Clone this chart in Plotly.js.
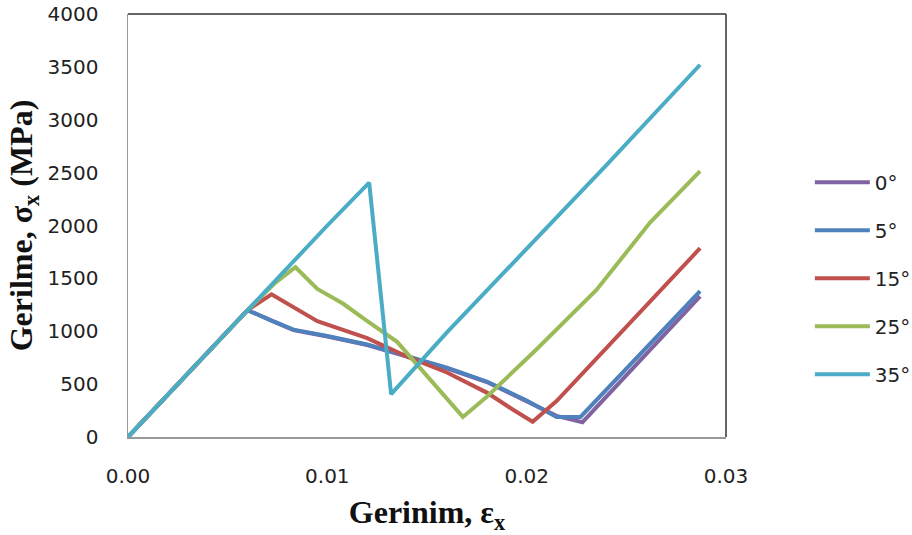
<!DOCTYPE html>
<html><head><meta charset="utf-8">
<script src="https://cdn.plot.ly/plotly-3.0.1.min.js"></script>
<style>html,body{margin:0;padding:0;background:#fff;}#chart{width:912px;height:535px;}</style>
</head><body><div id="chart"></div>
<script>
const seriesNames = ['0°', '5°', '15°', '25°', '35°'];
const seriesColors = ['#8064A2', '#4F81BD', '#C0504D', '#9BBB59', '#4BACC6'];

const x0 = [0, 0.002, 0.004, 0.006, 0.0072, 0.0083, 0.010, 0.012, 0.014, 0.016, 0.018, 0.020, 0.0215, 0.0228, 0.0287];
const y0 = [0, 400, 800, 1200, 1100, 1010, 950, 870, 760, 650, 520, 340, 200, 140, 1330];

const x5 = [0, 0.002, 0.004, 0.006, 0.0072, 0.0083, 0.010, 0.012, 0.014, 0.016, 0.018, 0.020, 0.0215, 0.0227, 0.0287];
const y5 = [0, 400, 800, 1200, 1100, 1015, 955, 875, 765, 655, 525, 345, 190, 190, 1380];

const x15 = [0, 0.002, 0.004, 0.006, 0.0072, 0.0095, 0.012, 0.014, 0.016, 0.018, 0.0193, 0.0203, 0.0215, 0.0287];
const y15 = [0, 400, 800, 1200, 1350, 1095, 935, 760, 610, 420, 260, 145, 340, 1785];

const x25 = [0, 0.002, 0.004, 0.006, 0.0074, 0.0084, 0.0095, 0.0108, 0.0119, 0.0135, 0.0168, 0.018, 0.0205, 0.0235, 0.0262, 0.0287];
const y25 = [0, 400, 800, 1200, 1460, 1605, 1400, 1260, 1110, 900, 190, 380, 830, 1390, 2030, 2515];

const x35 = [0, 0.002, 0.004, 0.006, 0.008, 0.010, 0.0121, 0.0132, 0.016, 0.020, 0.024, 0.0287];
const y35 = [0, 400, 800, 1200, 1600, 2000, 2405, 405, 990, 1780, 2570, 3520];

const xs = [x0, x5, x15, x25, x35];
const ys = [y0, y5, y15, y25, y35];

const traces = xs.map((x, i) => ({
  x: x, y: ys[i], type: 'scatter', mode: 'lines', name: seriesNames[i],
  legendgroup: 'g' + i,
  line: {color: seriesColors[i], width: 4}
}));

const tickFont = {size: 20, family: 'DejaVu Sans, sans-serif', color: '#222'};
const titleFont = {size: 32, family: 'Liberation Serif, serif', color: '#111', weight: 'bold'};

const layout = {
  width: 912, height: 535,
  margin: {l: 128, r: 186, t: 14, b: 98, autoexpand: false},
  paper_bgcolor: '#fff', plot_bgcolor: '#fff',
  font: {family: 'DejaVu Sans, sans-serif', color: '#222'},
  showlegend: true,
  legend: {x: 0.888, y: 0.48, xref: 'container', yref: 'container', xanchor: 'left', yanchor: 'middle',
           font: {size: 20, family: 'DejaVu Sans, sans-serif', color: '#222'},
           tracegroupgap: 19, itemwidth: 55},
  xaxis: {
    range: [0, 0.03], dtick: 0.01, tickformat: '.2f', showgrid: false, zeroline: false,
    showline: true, linecolor: '#999', linewidth: 1.5,
    ticks: '', ticklabelstandoff: 20,
    tickfont: tickFont,
    title: {text: 'Gerinim, ε<sub>x</sub>', font: titleFont, standoff: 17}
  },
  yaxis: {
    range: [0, 4000], dtick: 500, showgrid: false, zeroline: false,
    showline: true, linecolor: '#999', linewidth: 1.5,
    ticks: '', ticklabelstandoff: 24,
    tickfont: tickFont,
    title: {text: 'Gerilme, σ<sub>x</sub> (MPa)', font: titleFont, standoff: 5}
  },
  shapes: [
    {type: 'line', xref: 'paper', yref: 'paper', x0: 0, x1: 1, y0: 1, y1: 1, line: {color: '#333', width: 1.5}},
    {type: 'line', xref: 'paper', yref: 'paper', x0: 1, x1: 1, y0: 0, y1: 1, line: {color: '#333', width: 1.5}}
  ]
};

Plotly.newPlot('chart', traces, layout, {displayModeBar: false, staticPlot: true});
</script></body></html>
